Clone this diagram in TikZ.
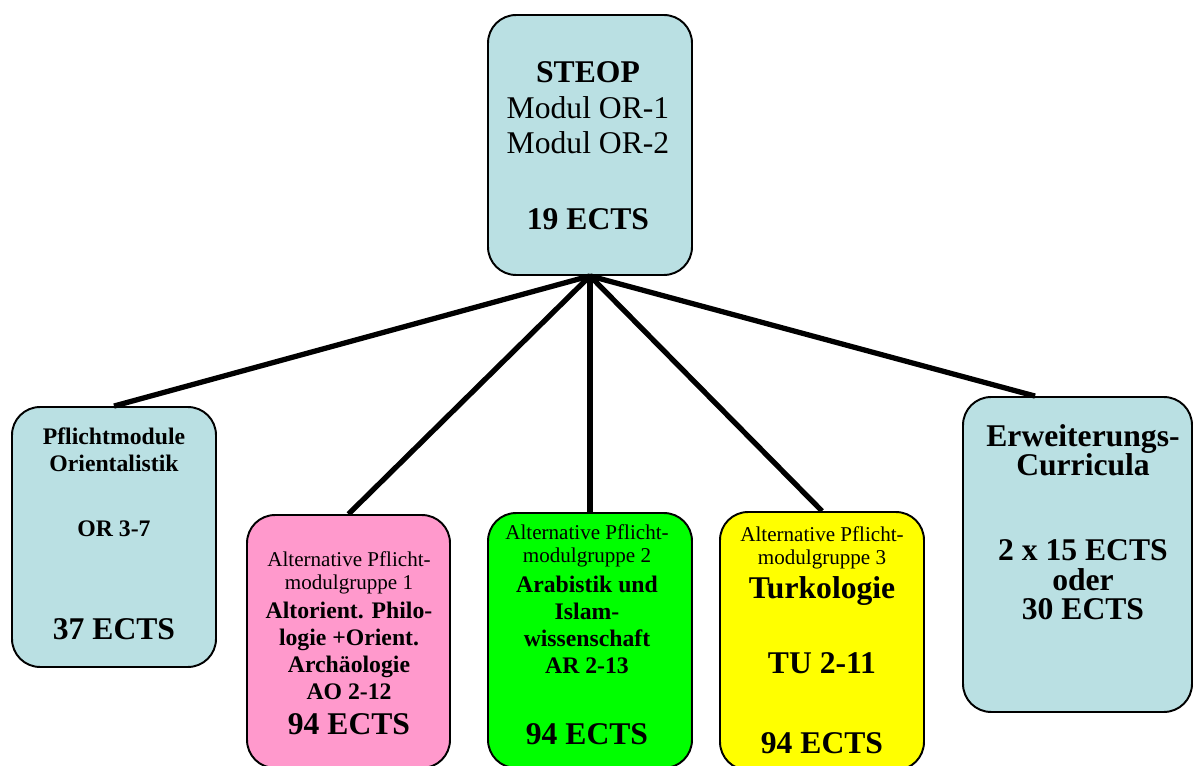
\documentclass[tikz,border=0pt]{standalone}
\usepackage{fontspec}
\setmainfont{Liberation Serif}
\usepackage{tikz}
\definecolor{paleblue}{HTML}{BAE0E3}
\definecolor{pinkbox}{HTML}{FF99CC}
\definecolor{greenbox}{HTML}{00FF00}
\definecolor{yellowbox}{HTML}{FFFF00}

\begin{document}
\begin{tikzpicture}[x=0.02cm, y=-0.02cm,
        modul/.style={draw=black, line width=1.1pt, rounded corners=0.56cm, minimum width=4.08cm},
        txt/.style={anchor=base, align=center, inner sep=0pt},
        big/.style={txt, font=\fontsize{18}{20}\selectfont\bfseries},
        mid/.style={txt, font=\fontsize{13.5}{15.5}\selectfont\bfseries},
        small/.style={txt, font=\fontsize{12}{13.6}\selectfont},
        link/.style={line width=3pt}]
        \useasboundingbox (0,0) rectangle (1194,766);
        % boxes
        \node[modul, fill=paleblue, minimum height=5.2cm] (steop) at (590,145) {};
        \node[modul, fill=paleblue, minimum height=5.2cm] (pflicht) at (114,537) {};
        \node[modul, fill=pinkbox, minimum width=4.06cm, minimum height=5.06cm] (altor) at (348.5,641.5) {};
        \node[modul, fill=greenbox, minimum height=5.1cm] (arab) at (590,640.5) {};
        \node[modul, fill=yellowbox, minimum height=5.16cm] (turk) at (822,641) {};
        \node[modul, fill=paleblue, minimum width=4.58cm, minimum height=6.3cm] (erw) at (1077.5,554.5) {};
        % connectors
        \draw[link] (steop.south) -- (pflicht.north);
        \draw[link] (steop.south) -- (altor.north);
        \draw[link] (steop.south) -- (arab.north);
        \draw[link] (steop.south) -- (turk.north);
        \draw[link] (steop.south) -- (erw.105);
        % texts (anchored at the baseline of the last line)
        \node[big] (steoptxt) at (588,230) {STEOP\\ {\mdseries Modul OR-1}\\ {\mdseries Modul OR-2}\\[23.7pt] 19 ECTS};
        \node[mid] (pflichttxt) at (114,537) {Pflichtmodule\\ Orientalistik\\[21.5pt] OR 3-7};
        \node[big] (pflichtects) at (114,640) {37 ECTS};
        \node[small] (altorkopf) at (349,590) {Alternative Pflicht-\\ modulgruppe 1};
        \node[mid] (altortxt) at (349,700) {Altorient. Philo-\\ logie +Orient.\\ Archäologie\\ AO 2-12};
        \node[big] (altorects) at (349,735) {94 ECTS};
        \node[small] (arabkopf) at (587,563) {Alternative Pflicht-\\ modulgruppe 2};
        \node[mid] (arabtxt) at (587,674) {Arabistik und\\ Islam-\\ wissenschaft\\ AR 2-13};
        \node[big] (arabects) at (587,745) {94 ECTS};
        \node[small] (turkkopf) at (822,565) {Alternative Pflicht-\\ modulgruppe 3};
        \node[big] (turktxt) at (822,753) {Turkologie\\[22.5pt] TU 2-11\\[25.4pt] 94 ECTS};
        \node[big, font=\fontsize{18}{17}\selectfont\bfseries] (erwtxt) at (1083,620) {Erweiterungs-\\ Curricula\\[31pt] 2 x 15 ECTS\\ oder\\ 30 ECTS};
    \end{tikzpicture}
\end{document}
